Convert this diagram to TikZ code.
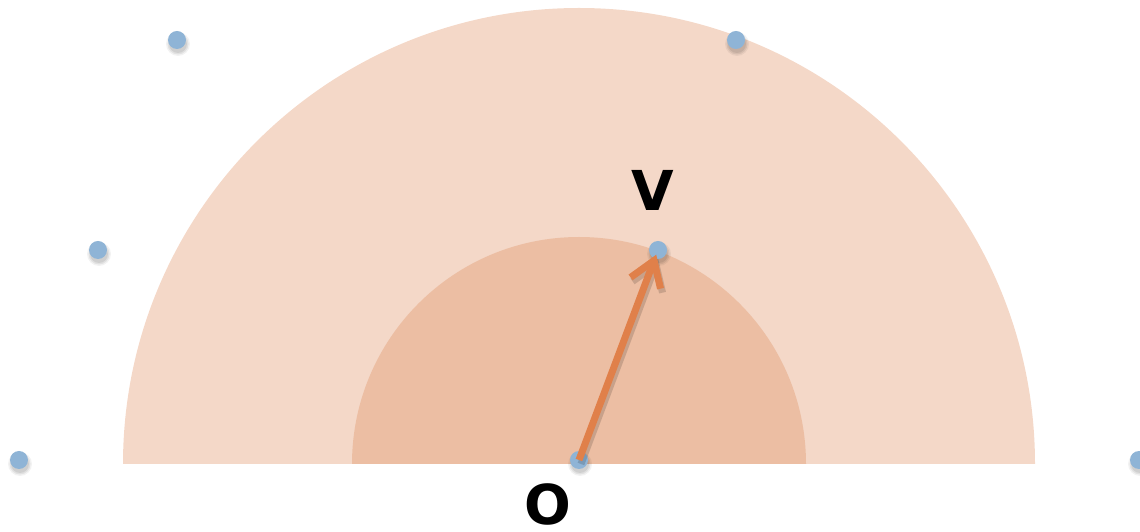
\documentclass[tikz,border=0pt]{standalone}
\usepackage{fontspec}
\setmainfont{DejaVu Sans}
\usetikzlibrary{arrows.meta,calc}
\definecolor{outerc}{HTML}{F4D8C8}
\definecolor{innerc}{HTML}{ECBEA3}
\definecolor{dotc}{HTML}{8FB4D6}
\definecolor{arrc}{HTML}{E0804A}
\tikzset{
  pt/.style={circle,fill=dotc,inner sep=0pt,minimum size=18pt,
    append after command={
      \pgfextra{\begin{pgfonlayer}{shadowlayer}
        \fill[black,opacity=0.05] ($(\tikzlastnode.center)+(1,-4)$) circle[radius=12pt];
        \fill[black,opacity=0.07] ($(\tikzlastnode.center)+(1,-4)$) circle[radius=10.5pt];
        \fill[black,opacity=0.08] ($(\tikzlastnode.center)+(1,-4)$) circle[radius=9pt];
      \end{pgfonlayer}}}},
  lbl/.style={font=\bfseries\fontsize{55}{55}\selectfont,text=black,inner sep=0pt},
  vec/.style={draw=arrc,line width=7pt,-{Straight Barb[length=24pt,width=32pt,line width=7pt]}},
}
\pgfdeclarelayer{bglayer}
\pgfdeclarelayer{shadowlayer}
\pgfsetlayers{bglayer,shadowlayer,main}
\begin{document}
\begin{tikzpicture}[x=1pt,y=1pt]
\useasboundingbox (0,0) rectangle (1140,532);
\begin{pgfonlayer}{bglayer}
\fill[outerc] (123,68) arc[start angle=180,end angle=0,radius=456] -- cycle;
\fill[innerc] (352,68) arc[start angle=180,end angle=0,radius=227] -- cycle;
\end{pgfonlayer}
\node[pt] (p1) at (177,492) {};
\node[pt] (p2) at (736,492) {};
\node[pt] (p3) at (98,282) {};
\node[pt] (p4) at (19,72) {};
\node[pt] (p5) at (1139,72) {};
\node[pt] (o) at (579,72) {};
\node[pt] (v) at (658,282) {};
\coordinate (vt) at ($(v.center)!5pt!(o.center)$);
\draw[vec,draw=black,opacity=0.15,transform canvas={xshift=2pt,yshift=-4pt}] (o.center) -- (vt);
\draw[vec] (o.center) -- (vt);
\node[lbl] (vl) at (653,342) {V};
\node[lbl] (ol) at (548,28) {O};
\end{tikzpicture}
\end{document}
